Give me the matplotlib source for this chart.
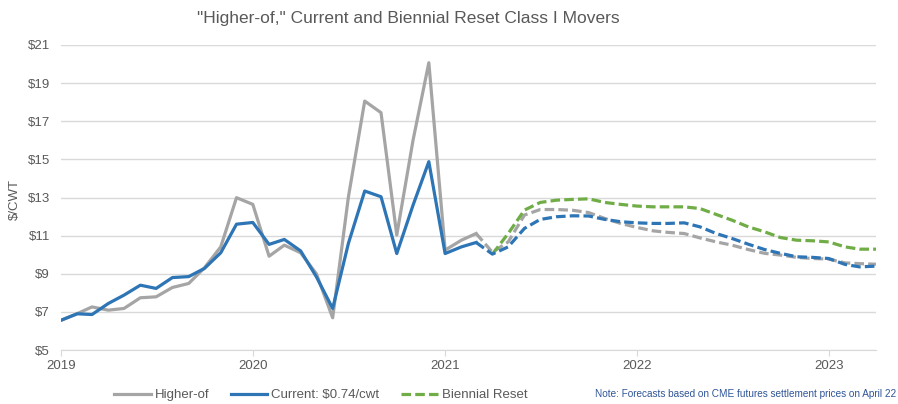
import numpy as np
import pandas as pd
import matplotlib
matplotlib.use("Agg")
import matplotlib.pyplot as plt
import matplotlib.dates as mdates
from matplotlib.lines import Line2D

plt.rcParams['font.family'] = ['Liberation Sans', 'DejaVu Sans']

# monthly values, Jan 2019 .. Apr 2023
months = pd.date_range("2019-01-01", periods=52, freq="MS")

higher_of = [6.56, 6.91, 7.26, 7.09, 7.18, 7.74, 7.79, 8.28, 8.49, 9.31, 10.41, 12.99,
             12.64, 9.92, 10.50, 10.10, 9.00, 6.69, 13.04, 18.06, 17.45, 11.03, 16.01, 20.07,
             10.24, 10.76, 11.11, 10.13, 10.67, 12.08, 12.37, 12.37, 12.33, 12.21, 11.90, 11.64,
             11.43, 11.25, 11.17, 11.11, 10.88, 10.67, 10.50, 10.27, 10.07, 9.98, 9.86, 9.80,
             9.77, 9.57, 9.53, 9.50]

current = [6.56, 6.90, 6.86, 7.44, 7.88, 8.40, 8.23, 8.80, 8.85, 9.28, 10.10, 11.60,
           11.69, 10.54, 10.80, 10.20, 8.84, 7.18, 10.60, 13.34, 13.04, 10.06, 12.60, 14.88,
           10.06, 10.41, 10.64, 10.03, 10.41, 11.38, 11.85, 11.99, 12.04, 12.03, 11.85, 11.73,
           11.67, 11.64, 11.64, 11.67, 11.46, 11.11, 10.85, 10.55, 10.27, 10.07, 9.89, 9.86,
           9.80, 9.49, 9.36, 9.40]

# Biennial reset forecast, Apr 2021 .. Apr 2023
biennial = [10.03, 11.11, 12.34, 12.74, 12.86, 12.90, 12.93, 12.74, 12.64,
            12.55, 12.51, 12.51, 12.51, 12.42, 12.11, 11.81, 11.46, 11.20, 10.90, 10.76, 10.73,
            10.67, 10.41, 10.29, 10.29]

split = 26  # Mar 2021: last actual month

c_gray = "#A5A5A5"
c_blue = "#2E75B6"
c_green = "#70AD47"
c_text = "#595959"
dash = (3.0, 1.3)

fig = plt.figure(figsize=(8.98, 4.04), dpi=100)
ax = fig.add_axes([61/898, 1-350/404, (876-61)/898, (350-45)/404])

lw = 2.3
ax.plot(months[:split+1], higher_of[:split+1], color=c_gray, lw=lw)
ax.plot(months[:split+1], current[:split+1], color=c_blue, lw=lw)
ax.plot(months[split:], higher_of[split:], color=c_gray, lw=lw, dashes=dash)
ax.plot(months[split+1:], biennial, color=c_green, lw=lw, dashes=dash)
ax.plot(months[split:], current[split:], color=c_blue, lw=lw, dashes=dash)

ax.set_ylim(5, 21)
ax.set_yticks(np.arange(5, 22, 2))
ax.yaxis.set_major_formatter(plt.FuncFormatter(lambda v, p: "${:d}".format(int(v))))
ax.set_xlim(months[0], months[-1])
ax.xaxis.set_major_locator(mdates.YearLocator())
ax.xaxis.set_major_formatter(mdates.DateFormatter("%Y"))

ax.grid(axis="y", color="#D9D9D9", lw=1)
ax.set_axisbelow(True)
for s in ["left", "right", "top"]:
    ax.spines[s].set_visible(False)
ax.spines["bottom"].set_color("#D9D9D9")
ax.tick_params(axis="y", length=0, labelsize=9.5, colors=c_text, pad=8)
ax.tick_params(axis="x", length=4, color="#D9D9D9", labelsize=9.5, labelcolor=c_text)

fig.text(15/898, 1-200/404, "$/CWT", rotation=90, ha="center", va="center",
         fontsize=9.5, color=c_text)
fig.text(408/898, 1-18/404, '"Higher-of," Current and Biennial Reset Class I Movers',
         ha="center", va="center", fontsize=12.5, color=c_text)

handles = [Line2D([], [], color=c_gray, lw=lw),
           Line2D([], [], color=c_blue, lw=lw),
           Line2D([], [], color=c_green, lw=lw, dashes=dash)]
fig.legend(handles, ["Higher-of", "Current: $0.74/cwt", "Biennial Reset"],
           loc="center left", bbox_to_anchor=(102/898, 1-395/404), ncol=3,
           frameon=False, fontsize=9.5, labelcolor=c_text, handlelength=2.8,
           handletextpad=0.3, columnspacing=1.6)

fig.text(896/898, 1-394/404, "Note: Forecasts based on CME futures settlement prices on April 22",
         ha="right", va="center", fontsize=7.2, color="#2F5597")

fig.savefig("out.png", dpi=100)
